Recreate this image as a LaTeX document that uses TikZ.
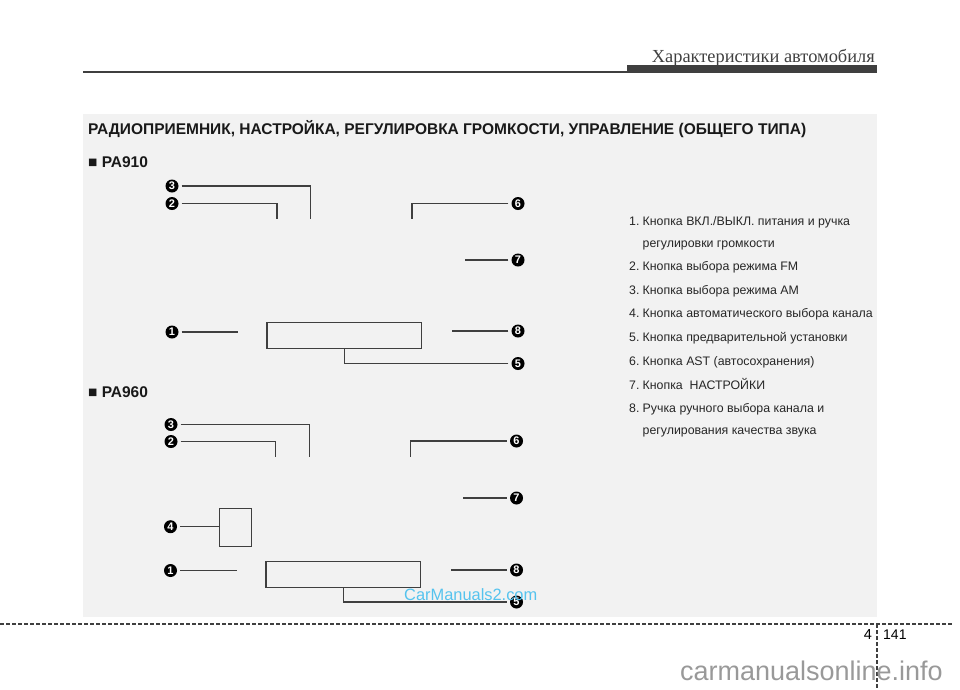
\documentclass[tikz,border=0pt]{standalone}
\usepackage{fontspec}
\setmainfont{Liberation Sans}
\newfontfamily\serifcyr{Liberation Serif}
\definecolor{panel}{HTML}{F2F2F2}
\definecolor{ink}{HTML}{3F3F3F}
\definecolor{wmblue}{HTML}{55C3EE}
\definecolor{wmgrey}{HTML}{999999}
\newcommand{\itemnum}[1]{\makebox[13.5pt][l]{#1}}
\tikzset{
  num/.style={circle,fill=black,text=white,inner sep=0pt,minimum size=13pt,outer sep=3.2pt,font=\fontsize{11}{11}\selectfont\bfseries},
  lead/.style={draw=ink,line width=1.3pt},
  frame/.style={draw=ink,line width=1.5pt},
  listitem/.style={anchor=base west,inner sep=0pt,font=\fontsize{12.35}{13}\selectfont,text=black!85},
  head/.style={anchor=base west,inner sep=0pt,font=\fontsize{15.5}{15.5}\selectfont\bfseries,text=black!90}
}
\begin{document}
\begin{tikzpicture}[x=1pt,y=-1pt]
\useasboundingbox (0,0) rectangle (960,689);
\fill[panel] (83,114) rectangle (877,617);
% header
\fill[ink] (83,71) rectangle (627,72.8);
\fill[ink] (627,65.3) rectangle (877,72.8);
\node[anchor=base east,inner sep=0pt,font=\serifcyr\fontsize{18.4}{18.4}\selectfont,text=black!75] (title) at (875,62) {Характеристики автомобиля};
% footer
\draw[ink,line width=1.2pt,dash pattern=on 4pt off 2pt] (0,624) -- (953,624);
\draw[ink,line width=1.2pt,dash pattern=on 4pt off 2pt] (877,624) -- (877,689);
\node[anchor=base east,inner sep=0pt,font=\fontsize{14.5}{15}\selectfont] (chap) at (872,639.5) {4};
\node[anchor=base west,inner sep=0pt,font=\fontsize{14}{15}\selectfont] (page) at (883,639.5) {141};
% headings
\node[head] (h0) at (88,134.5) {РАДИОПРИЕМНИК, НАСТРОЙКА, РЕГУЛИРОВКА ГРОМКОСТИ, УПРАВЛЕНИЕ (ОБЩЕГО ТИПА)};
\node[head] (h1) at (88,167.5) {■ РА910};
\node[head] (h2) at (88,397.5) {■ РА960};
% list
\node[listitem] (l1) at (629,225) {\itemnum{1.}Кнопка ВКЛ./ВЫКЛ. питания и ручка};
\node[listitem] (l1b) at (642.5,247) {регулировки громкости};
\node[listitem] (l2) at (629,270) {\itemnum{2.}Кнопка выбора режима FM};
\node[listitem] (l3) at (629,294) {\itemnum{3.}Кнопка выбора режима AM};
\node[listitem] (l4) at (629,317) {\itemnum{4.}Кнопка автоматического выбора канала};
\node[listitem] (l5) at (629,341) {\itemnum{5.}Кнопка предварительной установки};
\node[listitem] (l6) at (629,365) {\itemnum{6.}Кнопка AST (автосохранения)};
\node[listitem] (l7) at (629,389) {\itemnum{7.}Кнопка\ \ НАСТРОЙКИ};
\node[listitem] (l8) at (629,412) {\itemnum{8.}Ручка ручного выбора канала и};
\node[listitem] (l8b) at (642.5,434) {регулирования качества звука};
% upper unit
\node[num] (a3) at (172,186) {3};
\node[num] (a2) at (172,203.5) {2};
\node[num] (a1) at (172,332) {1};
\node[num] (a6) at (518,203.5) {6};
\node[num] (a7) at (518,260) {7};
\node[num] (a8) at (518,331) {8};
\node[num] (a5) at (518,363.5) {5};
\node[inner sep=0pt,minimum width=154.7pt,minimum height=26pt,frame] (ab) at (344.3,335.3) {};
\coordinate (a3e) at (310.7,219);
\coordinate (a2e) at (277,219);
\coordinate (a6e) at (412,219);
\coordinate (a7e) at (465,260);
\coordinate (a1e) at (237.7,332);
\coordinate (a8e) at (452,331);
\draw[lead] (a3) -- (a3 -| a3e) -- (a3e);
\draw[lead] (a2) -- (a2 -| a2e) -- (a2e);
\draw[lead] (a6) -- (a6 -| a6e) -- (a6e);
\draw[lead] (a7) -- (a7e);
\draw[lead] (a1) -- (a1e);
\draw[lead] (a8) -- (a8e);
\draw[lead] (a5) -- (a5 -| ab.south) -- (ab.south);
% lower unit
\node[num] (b3) at (171,424.5) {3};
\node[num] (b2) at (171,441.5) {2};
\node[num] (b4) at (170.5,526.7) {4};
\node[num] (b1) at (170.5,570.5) {1};
\node[num] (b6) at (516.5,441) {6};
\node[num] (b7) at (516.5,498) {7};
\node[num] (b8) at (516.5,570) {8};
\node[num] (b5) at (516.5,602) {5};
\node[inner sep=0pt,minimum width=154.3pt,minimum height=25.6pt,frame] (bb) at (343.2,574.5) {};
\node[inner sep=0pt,minimum width=32.7pt,minimum height=38.4pt,draw=ink,line width=1pt] (bs) at (235.4,527.5) {};
\coordinate (b3e) at (309.5,457);
\coordinate (b2e) at (275.5,457);
\coordinate (b6e) at (410.7,457);
\coordinate (b7e) at (463.3,498);
\coordinate (b1e) at (236.7,570.5);
\coordinate (b8e) at (451.3,570);
\draw[lead] (b3) -- (b3 -| b3e) -- (b3e);
\draw[lead] (b2) -- (b2 -| b2e) -- (b2e);
\draw[lead] (b6) -- (b6 -| b6e) -- (b6e);
\draw[lead] (b7) -- (b7e);
\draw[lead] (b1) -- (b1e);
\draw[lead] (b8) -- (b8e);
\draw[lead] (b4) -- (bs.west |- b4);
\draw[lead] (b5) -- (b5 -| bb.south) -- (bb.south);
% watermarks
\node[anchor=base west,inner sep=0pt,font=\fontsize{16.4}{17}\selectfont,text=wmblue] (wm1) at (404,600) {CarManuals2.com};
\node[anchor=base east,inner sep=0pt,font=\fontsize{27}{27}\selectfont,text=wmgrey] (wm2) at (943,680.5) {carmanualsonline.info};
\end{tikzpicture}
\end{document}
